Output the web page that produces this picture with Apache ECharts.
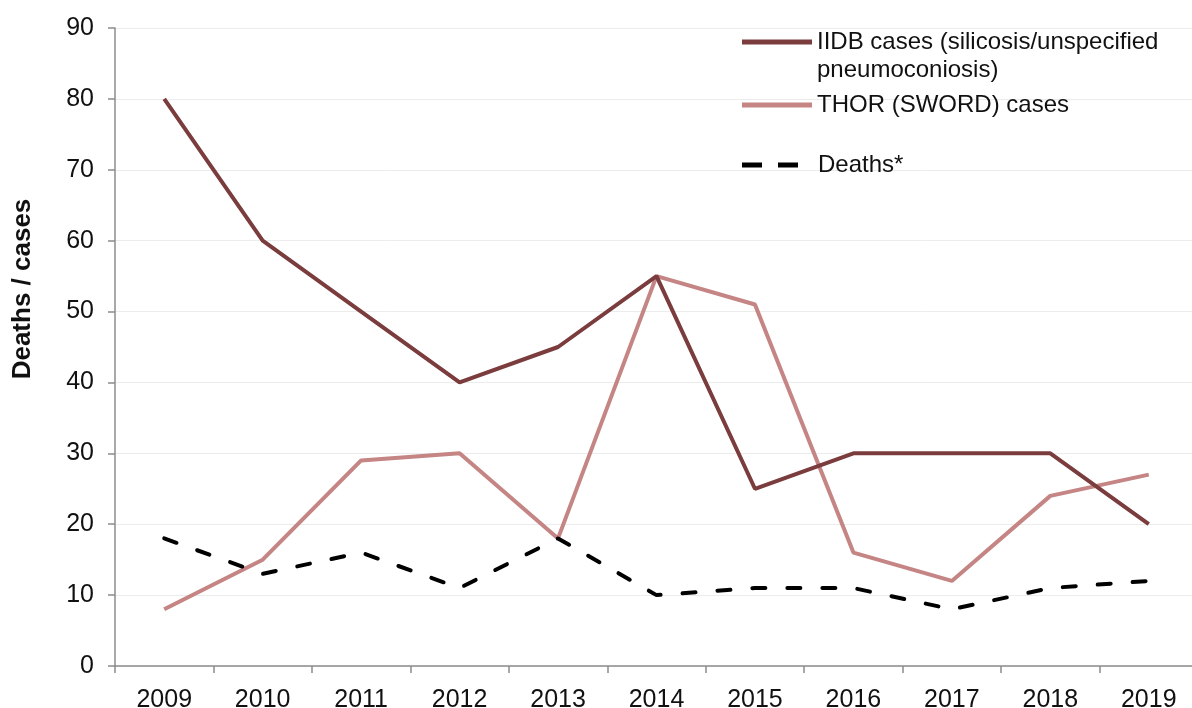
<!DOCTYPE html>
<html>
<head>
<meta charset="utf-8">
<script src="https://cdn.jsdelivr.net/npm/echarts@6/dist/echarts.min.js"></script>
<style>html,body{margin:0;padding:0;background:#fff;}#c{width:1192px;height:708px;}</style>
</head>
<body>
<div id="c"></div>
<script>
const years = ['2009','2010','2011','2012','2013','2014','2015','2016','2017','2018','2019'];
const iidb = [80, 60, 50, 40, 45, 55, 25, 30, 30, 30, 20];
const thor = [8, 15, 29, 30, 18, 55, 51, 16, 12, 24, 27];
const deaths = [18, 13, 16, 11, 18, 10, 11, 11, 8, 11, 12];
const yTicks = [0, 10, 20, 30, 40, 50, 60, 70, 80, 90];

const nameIIDB = 'IIDB cases (silicosis/unspecified pneumoconiosis)';
const nameIIDBLine1 = 'IIDB cases (silicosis/unspecified';
const nameIIDBLine2 = 'pneumoconiosis)';
const nameTHOR = 'THOR (SWORD) cases';
const nameDeaths = 'Deaths*';
const yTitle = 'Deaths / cases';

const font = 'Liberation Sans, Arial, sans-serif';
const cIIDB = '#7b3c3e', cTHOR = '#c48584';
const chart = echarts.init(document.getElementById('c'));
const legTxt = {fontFamily: font, fontSize: 24, color: '#111', lineHeight: 28};
const legendBase = {
  orient: 'vertical', left: 742, itemWidth: 70, itemHeight: 5, itemGap: 0, padding: 0,
  textStyle: legTxt, selectedMode: false
};
const solidIcon = 'path://M0,0H70V5H0Z';
const dashIcon = 'path://M0,0H20V5H0Z M36,0H56V5H36Z';
chart.setOption({
  animation: false,
  textStyle: {fontFamily: font},
  grid: {left: 115, top: 28, width: 1083, bottom: 42, containLabel: false, outerBoundsMode: 'none'},
  legend: [
    Object.assign({}, legendBase, {top: 28, data: [{name: nameIIDB, icon: solidIcon}],
      formatter: () => nameIIDBLine1}),
    Object.assign({}, legendBase, {top: 91, data: [{name: nameTHOR, icon: solidIcon}]}),
    Object.assign({}, legendBase, {top: 151, itemWidth: 56, data: [{name: nameDeaths, icon: dashIcon}],
      textStyle: Object.assign({}, legTxt, {padding: [0, 0, 0, 15]})})
  ],
  graphic: [
    {type: 'text', left: 817, top: 58, silent: true,
     style: {text: nameIIDBLine2, fontFamily: font, fontSize: 24, fill: '#111'}},
    {type: 'text', x: 23, y: 289, rotation: Math.PI / 2, silent: true,
     style: {text: yTitle, fontFamily: font, fontSize: 26, fontWeight: 'bold', fill: '#111',
             align: 'center', verticalAlign: 'middle'}}
  ],
  xAxis: {
    type: 'category', data: years, boundaryGap: true,
    axisLine: {lineStyle: {color: '#8c8c8c', width: 1.5}},
    axisTick: {show: true, length: 7, alignWithLabel: false, lineStyle: {color: '#8c8c8c', width: 1.5}},
    axisLabel: {fontSize: 25, color: '#111', margin: 22, fontFamily: font},
    splitLine: {show: false}
  },
  yAxis: {
    type: 'value', min: 0, max: 90, interval: 10,
    axisLine: {show: true, lineStyle: {color: '#8c8c8c', width: 1.5}},
    axisTick: {show: true, length: 7, lineStyle: {color: '#8c8c8c', width: 1.5}},
    axisLabel: {fontSize: 25, color: '#111', margin: 21, fontFamily: font,
      formatter: v => yTicks.includes(v) ? String(v) : ''},
    splitLine: {show: true, lineStyle: {color: '#ececec', width: 1}}
  },
  series: [
    {name: nameIIDB, type: 'line', data: iidb, symbol: 'none', z: 3,
     lineStyle: {color: cIIDB, width: 4}, itemStyle: {color: cIIDB}},
    {name: nameTHOR, type: 'line', data: thor, symbol: 'none', z: 2,
     lineStyle: {color: cTHOR, width: 4}, itemStyle: {color: cTHOR}},
    {name: nameDeaths, type: 'line', data: deaths, symbol: 'none', z: 4,
     lineStyle: {color: '#000', width: 4, type: [13, 22], cap: 'round'}, itemStyle: {color: '#000'}}
  ]
});
</script>
</body>
</html>
